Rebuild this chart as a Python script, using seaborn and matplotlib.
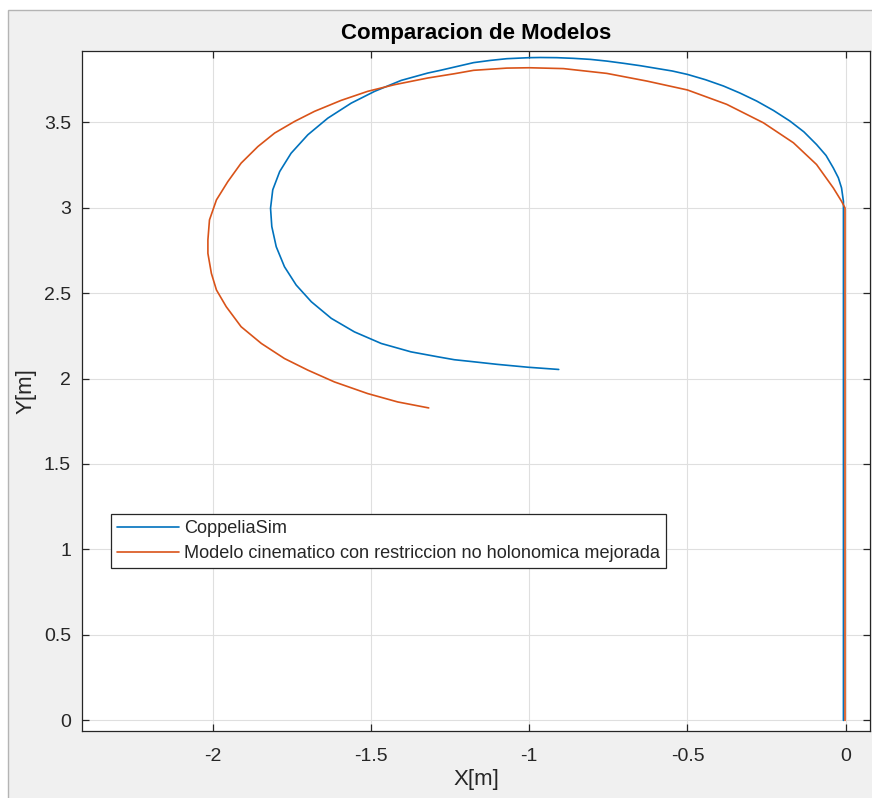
import matplotlib
matplotlib.use("Agg")
import matplotlib.pyplot as plt
from matplotlib.patches import Rectangle
import pandas as pd
import seaborn as sns

# Trajectory from the CoppeliaSim run (x, y in metres)
coppelia_x = [-0.007, -0.007, -0.007, -0.007, -0.013, -0.023, -0.039, -0.062, -0.092,
              -0.132, -0.176, -0.228, -0.281, -0.334, -0.386, -0.443, -0.500, -0.548,
              -0.597, -0.649, -0.702, -0.755, -0.807, -0.860, -0.913, -0.965, -1.000,
              -1.071, -1.123, -1.176, -1.281, -1.321, -1.405, -1.489, -1.563, -1.637,
              -1.700, -1.753, -1.789, -1.811, -1.818, -1.814, -1.800, -1.774, -1.737,
              -1.689, -1.626, -1.553, -1.468, -1.374, -1.289, -1.237, -1.186, -1.102,
              -1.004, -0.907]
coppelia_y = [0.000, 1.500, 3.000, 3.037, 3.115, 3.174, 3.232, 3.305, 3.369,
              3.443, 3.506, 3.568, 3.623, 3.670, 3.711, 3.748, 3.779, 3.799,
              3.814, 3.830, 3.844, 3.857, 3.867, 3.873, 3.877, 3.878, 3.877,
              3.871, 3.861, 3.848, 3.803, 3.787, 3.744, 3.680, 3.611, 3.523,
              3.426, 3.318, 3.211, 3.104, 2.996, 2.889, 2.771, 2.654, 2.547,
              2.449, 2.352, 2.273, 2.205, 2.156, 2.127, 2.110, 2.100, 2.083,
              2.066, 2.053]

# Trajectory from the improved non-holonomic kinematic model
modelo_x = [-0.002, -0.002, -0.002, -0.013, -0.039, -0.092, -0.165, -0.260, -0.376,
            -0.500, -0.628, -0.755, -0.892, -1.000, -1.071, -1.176, -1.237, -1.321,
            -1.426, -1.511, -1.595, -1.679, -1.742, -1.805, -1.858, -1.911, -1.953,
            -1.989, -2.011, -2.016, -2.016, -2.005, -1.989, -1.958, -1.911, -1.847,
            -1.774, -1.700, -1.616, -1.511, -1.416, -1.318]
modelo_y = [0.000, 1.500, 2.998, 3.037, 3.115, 3.252, 3.379, 3.496, 3.604,
            3.688, 3.740, 3.785, 3.813, 3.818, 3.816, 3.803, 3.783, 3.758,
            3.719, 3.680, 3.627, 3.563, 3.504, 3.436, 3.357, 3.260, 3.152,
            3.045, 2.928, 2.811, 2.732, 2.615, 2.518, 2.420, 2.303, 2.205,
            2.117, 2.049, 1.980, 1.912, 1.863, 1.828]

series_names = ["CoppeliaSim",
                "Modelo cinematico con restriccion no holonomica mejorada"]
x_ticks = [-2, -1.5, -1, -0.5, 0]
x_tick_labels = ["-2", "-1.5", "-1", "-0.5", "0"]
y_ticks = [0, 0.5, 1, 1.5, 2, 2.5, 3, 3.5]
y_tick_labels = ["0", "0.5", "1", "1.5", "2", "2.5", "3", "3.5"]

df = pd.concat([
    pd.DataFrame({"x": coppelia_x, "y": coppelia_y, "serie": series_names[0]}),
    pd.DataFrame({"x": modelo_x, "y": modelo_y, "serie": series_names[1]}),
], ignore_index=True)

sns.set_theme(style="white")
plt.rcParams["font.family"] = ["Liberation Sans", "DejaVu Sans"]

W, H = 872, 798
fig = plt.figure(figsize=(W / 100, H / 100), dpi=100, facecolor="white")

# grey figure panel with a thin border
panel = Rectangle((8 / W, -0.05), 1.1, 1 - 10 / H + 0.05,
                  transform=fig.transFigure, facecolor="#f0f0f0",
                  edgecolor="#b4b4b4", linewidth=1.0, zorder=-10)
fig.add_artist(panel)

ax = fig.add_axes([82 / W, 1 - 731 / H, (870 - 82) / W, (731 - 51) / H])
ax.set_zorder(1)
ax.set_facecolor("white")

palette = {series_names[0]: "#0072BD", series_names[1]: "#D95319"}
sns.lineplot(data=df, x="x", y="y", hue="serie", palette=palette, sort=False,
             estimator=None, ax=ax, linewidth=1.2, legend=False)

ax.set_xlim(-2.414, 0.077)
ax.set_ylim(-0.062, 3.916)
ax.set_xticks(x_ticks)
ax.set_xticklabels(x_tick_labels)
ax.set_yticks(y_ticks)
ax.set_yticklabels(y_tick_labels)

ax.grid(True, color="#dfdfdf", linewidth=0.8)
ax.set_axisbelow(True)
for s in ax.spines.values():
    s.set_color("#262626")
    s.set_linewidth(0.9)
    s.set_visible(True)
ax.tick_params(direction="in", length=5, width=0.9, color="#262626",
               top=True, right=True, bottom=True, left=True,
               labelsize=14, labelcolor="#262626")
ax.tick_params(axis="x", pad=12)
ax.tick_params(axis="y", pad=8)

ax.set_title("Comparacion de Modelos", fontsize=16, fontweight="bold",
             color="black", pad=9)
ax.set_xlabel("X[m]", fontsize=16, color="#262626", labelpad=3)
ax.set_ylabel("Y[m]", fontsize=16, color="#262626", labelpad=5)

handles = [plt.Line2D([], [], color=palette[n], linewidth=1.2) for n in series_names]
leg = ax.legend(handles, series_names, loc="upper left",
                bbox_to_anchor=(111 / W, 1 - 514 / H),
                bbox_transform=fig.transFigure, borderaxespad=0,
                fontsize=13.1, frameon=True, fancybox=False, framealpha=1,
                edgecolor="#262626", handlelength=3.4, handletextpad=0.3,
                labelspacing=0.45, borderpad=0.33)
leg.get_frame().set_linewidth(0.9)
for t in leg.get_texts():
    t.set_color("#262626")

fig.savefig("out.png", dpi=100, facecolor=fig.get_facecolor())
